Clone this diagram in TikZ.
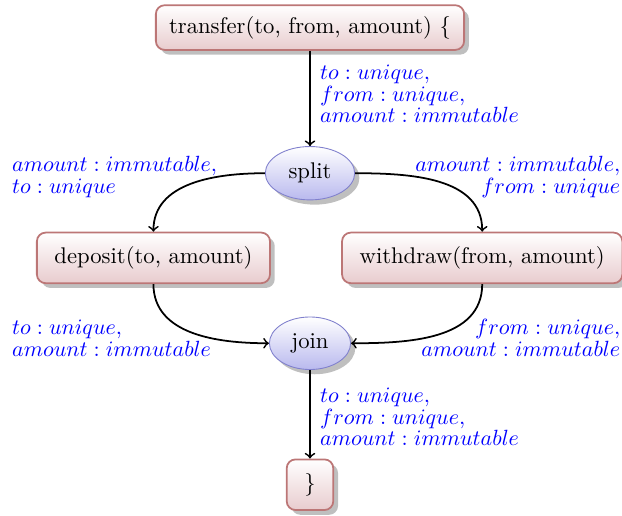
\documentclass[tikz,border=0pt]{standalone}
\usepackage{fix-cm}
\usetikzlibrary{shapes.geometric,shadows}
\definecolor{boxline}{RGB}{188,118,118}
\definecolor{boxfill}{RGB}{232,204,206}
\definecolor{forkline}{RGB}{128,128,205}
\definecolor{forkfill}{RGB}{185,185,238}

\begin{document}
\begin{tikzpicture}[
    block/.style={draw=boxline, rounded corners=4pt, top color=white,
      bottom color=boxfill, drop shadow, inner xsep=8pt, inner ysep=5pt,
      minimum height=23pt, minimum width=21pt, line width=0.8pt,
      font=\fontsize{10.3}{12}\selectfont},
    fork/.style={ellipse, draw=forkline, top color=white,
      bottom color=forkfill, drop shadow, line width=0.4pt,
      inner xsep=4.6pt, inner ysep=4pt,
      font=\fontsize{10.3}{12}\selectfont},
    edge/.style={thick,->},
    lbl/.style={text=blue, inner sep=0pt, font=\fontsize{10}{9.8}\selectfont}
  ]
  \useasboundingbox (0,0) rectangle (9.932,-8.237);
  %% blocks
  \node[block,minimum height=0pt,inner xsep=6pt] (transfer) at (4.95,-0.44)
    {transfer(to, from, amount) \{};
  \node[fork] (split) at (4.95,-2.766) {split};
  \node[block] (deposit) at (2.45,-4.118) {deposit(to, amount)};
  \node[block] (withdraw) at (7.70,-4.118) {withdraw(from, amount)};
  \node[fork] (join) at (4.95,-5.481) {join};
  \node[block] (close) at (4.95,-7.74) {\}};
  %% labels
  \node[lbl,anchor=west,align=left] (lblsplit) at (5.106,-1.498)
    {$to : unique,$\\ $from : unique,$\\ $amount : immutable$};
  \node[lbl,anchor=west,align=left] (lbldeposit) at (0.187,-2.829)
    {$amount : immutable,$\\ $to : unique$};
  \node[lbl,anchor=east,align=right] (lblwithdraw) at (9.911,-2.829)
    {$amount : immutable,$\\ $from : unique$};
  \node[lbl,anchor=west,align=left] (lbljoinl) at (0.187,-5.398)
    {$to : unique,$\\ $amount : immutable$};
  \node[lbl,anchor=east,align=right] (lbljoinr) at (9.911,-5.398)
    {$from : unique,$\\ $amount : immutable$};
  \node[lbl,anchor=west,align=left] (lblclose) at (5.106,-6.656)
    {$to : unique,$\\ $from : unique,$\\ $amount : immutable$};
  %% edges
  \draw[edge] (transfer) -- (split);
  \draw[edge] (split.west) to[out=180,in=90] (deposit.north);
  \draw[edge] (split.east) to[out=0,in=90] (withdraw.north);
  \draw[edge] (deposit.south) to[out=-90,in=180] (join.west);
  \draw[edge] (withdraw.south) to[out=-90,in=0] (join.east);
  \draw[edge] (join) -- (close);
\end{tikzpicture}
\end{document}
